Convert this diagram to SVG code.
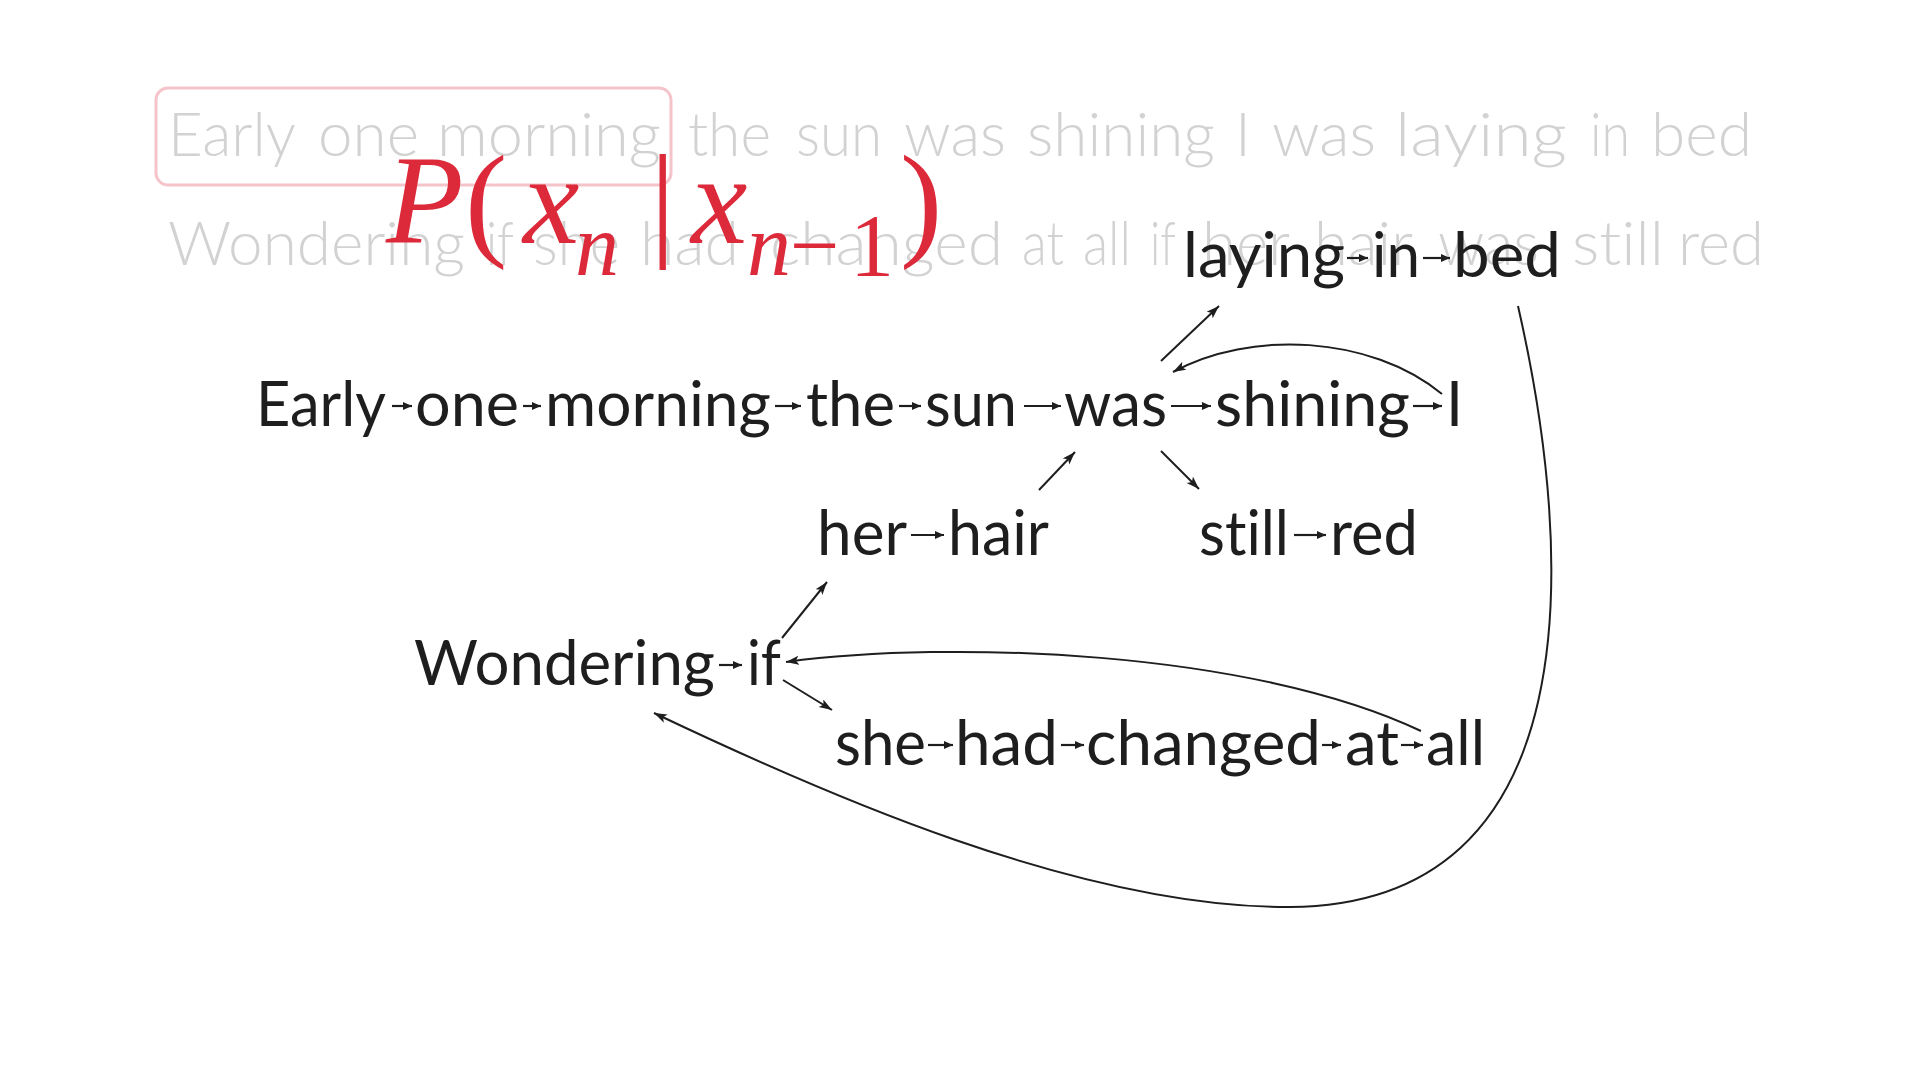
<svg xmlns="http://www.w3.org/2000/svg" width="1920" height="1080" viewBox="0 0 1920 1080">
<style>
text{font-variant-ligatures:none;font-feature-settings:"liga" 0,"clig" 0,"dlig" 0}
.bg{font-family:Lato,"Noto Sans","Liberation Sans",sans-serif;font-size:61px;font-weight:300;fill:#d2d2d2}
.w{font-family:Lato,"Noto Sans","Liberation Sans",sans-serif;font-size:61px;fill:#1e1e1e}
.m{font-family:"Liberation Serif","DejaVu Serif",serif;fill:#dc2a3b}
.mi{font-style:italic}
.big{font-size:127px}
.sub{font-size:88px}
.ia{stroke:#1e1e1e;stroke-width:2.2;fill:none;marker-end:url(#ah)}
.ca{stroke:#1e1e1e;stroke-width:2;fill:none;marker-end:url(#ahL)}
</style>
<defs>
<marker id="ah" markerUnits="userSpaceOnUse" markerWidth="10" markerHeight="8" refX="9" refY="4" orient="auto"><path d="M0,0 L9,4 L0,8 z" fill="#1e1e1e"/></marker>
<marker id="ahL" markerUnits="userSpaceOnUse" markerWidth="14" markerHeight="10" refX="13" refY="4.5" orient="auto"><path d="M0,0 L13,4.5 L0,9 L3,4.5 z" fill="#1e1e1e"/></marker>
</defs>
<rect width="1920" height="1080" fill="#ffffff"/>

<g id="source-text">
<text class="bg" y="156"><tspan x="168" textLength="128" lengthAdjust="spacingAndGlyphs">Early</tspan><tspan x="318" textLength="101" lengthAdjust="spacingAndGlyphs">one</tspan><tspan x="437" textLength="224" lengthAdjust="spacingAndGlyphs">morning</tspan><tspan x="688" textLength="83" lengthAdjust="spacingAndGlyphs">the</tspan><tspan x="796" textLength="86" lengthAdjust="spacingAndGlyphs">sun</tspan><tspan x="904" textLength="102" lengthAdjust="spacingAndGlyphs">was</tspan><tspan x="1027" textLength="188" lengthAdjust="spacingAndGlyphs">shining</tspan><tspan x="1235">I</tspan><tspan x="1272" textLength="104" lengthAdjust="spacingAndGlyphs">was</tspan><tspan x="1395" textLength="172" lengthAdjust="spacingAndGlyphs">laying</tspan><tspan x="1590" textLength="40" lengthAdjust="spacingAndGlyphs">in</tspan><tspan x="1651" textLength="101" lengthAdjust="spacingAndGlyphs">bed</tspan></text>
<text class="bg" y="265"><tspan x="168" textLength="297" lengthAdjust="spacingAndGlyphs">Wondering</tspan><tspan x="486" textLength="28" lengthAdjust="spacingAndGlyphs">if</tspan><tspan x="533" textLength="87" lengthAdjust="spacingAndGlyphs">she</tspan><tspan x="640" textLength="99" lengthAdjust="spacingAndGlyphs">had</tspan><tspan x="770" textLength="233" lengthAdjust="spacingAndGlyphs">changed</tspan><tspan x="1022" textLength="42" lengthAdjust="spacingAndGlyphs">at</tspan><tspan x="1083" textLength="48" lengthAdjust="spacingAndGlyphs">all</tspan><tspan x="1150" textLength="26" lengthAdjust="spacingAndGlyphs">if</tspan><tspan x="1202" textLength="88" lengthAdjust="spacingAndGlyphs">her</tspan><tspan x="1314" textLength="99" lengthAdjust="spacingAndGlyphs">hair</tspan><tspan x="1438" textLength="101" lengthAdjust="spacingAndGlyphs">was</tspan><tspan x="1572" textLength="92" lengthAdjust="spacingAndGlyphs">still</tspan><tspan x="1678" textLength="86" lengthAdjust="spacingAndGlyphs">red</tspan></text>
</g>

<g id="highlight-box">
<rect x="156" y="88" width="515" height="97" rx="12" fill="none" stroke="#f5c4ca" stroke-width="3"/>
</g>

<g id="formula">
<text class="m mi big" x="386" y="243">P</text>
<text class="m big" x="465" y="243">(</text>
<text class="m mi big" x="523" y="243">x</text>
<text class="m mi sub" x="575" y="275">n</text>
<text class="m big" x="650" y="243">|</text>
<text class="m mi big" x="691" y="243">x</text>
<text class="m mi sub" x="747" y="275">n</text>
<text class="m sub" x="790" y="275">−</text>
<text class="m sub" x="850" y="275">1</text>
<text class="m big" x="900" y="243">)</text>
</g>

<g id="n-early"><text class="w" x="256" y="426" textLength="130" lengthAdjust="spacingAndGlyphs">Early</text></g>
<g id="n-one"><text class="w" x="415" y="426" textLength="104" lengthAdjust="spacingAndGlyphs">one</text></g>
<g id="n-morning"><text class="w" x="545" y="426" textLength="226" lengthAdjust="spacingAndGlyphs">morning</text></g>
<g id="n-the"><text class="w" x="806" y="426" textLength="89" lengthAdjust="spacingAndGlyphs">the</text></g>
<g id="n-sun"><text class="w" x="925" y="426" textLength="92" lengthAdjust="spacingAndGlyphs">sun</text></g>
<g id="n-was"><text class="w" x="1064" y="426" textLength="103" lengthAdjust="spacingAndGlyphs">was</text></g>
<g id="n-shining"><text class="w" x="1215" y="426" textLength="195" lengthAdjust="spacingAndGlyphs">shining</text></g>
<g id="n-I"><text class="w" x="1446" y="426">I</text></g>

<g id="n-laying"><text class="w" x="1183" y="277" textLength="162" lengthAdjust="spacingAndGlyphs">laying</text></g>
<g id="n-in"><text class="w" x="1372" y="277" textLength="48" lengthAdjust="spacingAndGlyphs">in</text></g>
<g id="n-bed"><text class="w" x="1453" y="277" textLength="108" lengthAdjust="spacingAndGlyphs">bed</text></g>

<g id="n-her"><text class="w" x="817" y="555" textLength="90" lengthAdjust="spacingAndGlyphs">her</text></g>
<g id="n-hair"><text class="w" x="948" y="555" textLength="101" lengthAdjust="spacingAndGlyphs">hair</text></g>
<g id="n-still"><text class="w" x="1199" y="555" textLength="90" lengthAdjust="spacingAndGlyphs">still</text></g>
<g id="n-red"><text class="w" x="1330" y="555" textLength="88" lengthAdjust="spacingAndGlyphs">red</text></g>

<g id="n-wondering"><text class="w" x="414" y="685" textLength="301" lengthAdjust="spacingAndGlyphs">Wondering</text></g>
<g id="n-if"><text class="w" x="747" y="685" textLength="34" lengthAdjust="spacingAndGlyphs">if</text></g>

<g id="n-she"><text class="w" x="835" y="765" textLength="91" lengthAdjust="spacingAndGlyphs">she</text></g>
<g id="n-had"><text class="w" x="955" y="765" textLength="103" lengthAdjust="spacingAndGlyphs">had</text></g>
<g id="n-changed"><text class="w" x="1086" y="765" textLength="235" lengthAdjust="spacingAndGlyphs">changed</text></g>
<g id="n-at"><text class="w" x="1345" y="765" textLength="54" lengthAdjust="spacingAndGlyphs">at</text></g>
<g id="n-all"><text class="w" x="1426" y="765" textLength="59" lengthAdjust="spacingAndGlyphs">all</text></g>

<g id="connectors">
<path class="ia" d="M392,406 H412"/>
<path class="ia" d="M523,406 H541"/>
<path class="ia" d="M775,406 H801"/>
<path class="ia" d="M899,406 H921"/>
<path class="ia" d="M1024,406 H1061"/>
<path class="ia" d="M1171,406 H1211"/>
<path class="ia" d="M1413,406 H1442"/>
<path class="ia" d="M1347,258 H1368"/>
<path class="ia" d="M1423,258 H1450"/>
<path class="ia" d="M911,535 H944"/>
<path class="ia" d="M1294,535 H1326"/>
<path class="ia" d="M719,665 H742"/>
<path class="ia" d="M928,745 H953"/>
<path class="ia" d="M1061,745 H1084"/>
<path class="ia" d="M1322,745 H1341"/>
<path class="ia" d="M1401,745 H1423"/>

<path class="ca" d="M1161,361 L1219,306"/>
<path class="ca" d="M1442,394 C1370,335 1250,330 1173,372"/>
<path class="ca" d="M1039,490 L1075,452"/>
<path class="ca" d="M1161,451 L1199,489"/>
<path class="ca" d="M782,638 L827,582"/>
<path class="ca" d="M783,680 L832,710"/>
<path class="ca" d="M1421,731 C1250,650 950,640 786,662"/>
<path class="ca" d="M1518,306 C1576,560 1590,905 1290,907 C1080,908 820,792 654,713"/>
</g>
</svg>
